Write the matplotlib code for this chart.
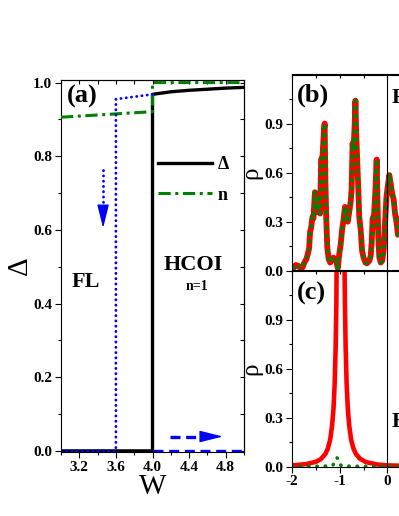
import numpy as np
import matplotlib
matplotlib.use('Agg')
import matplotlib.pyplot as plt
from matplotlib.ticker import MultipleLocator, FixedLocator

plt.rcParams['font.family'] = ['Liberation Serif', 'DejaVu Serif']
plt.rcParams['font.weight'] = 'bold'
plt.rcParams['axes.linewidth'] = 0.8

# -------------------------------------------------------------------
# datos panel (a): parametro de orden Delta y llenado n vs W
# -------------------------------------------------------------------
W_delta = [3.0, 4.0, 4.0, 4.2, 4.4, 4.6, 4.8, 5.0]
delta = [0.0, 0.0, 0.968, 0.975, 0.979, 0.982, 0.985, 0.987]

W_n = [3.0, 4.0, 4.0, 5.0]
n_fill = [0.906, 0.921, 1.0, 1.0]

# rama de histeresis (azul)
W_back = [3.0, 3.6, 3.6, 4.0]
delta_back = [0.0, 0.0, 0.955, 0.968]
W_fwd = [4.0, 5.0]
delta_fwd = [0.0, 0.0]

# flechas (inicio, base de la punta, punta)
arrow_down = ((3.46, 0.763), (3.46, 0.665), (3.46, 0.605))
arrow_right = ((4.19, 0.039), (4.54, 0.039), (4.77, 0.039))

# -------------------------------------------------------------------
# datos panel (b): densidad de estados (FL)
# -------------------------------------------------------------------
w_b = [-2.00, -1.96, -1.92, -1.87, -1.82, -1.78, -1.74, -1.70, -1.67, -1.64,
       -1.62, -1.60, -1.57, -1.55, -1.52, -1.50, -1.47, -1.44, -1.41, -1.39,
       -1.36, -1.33, -1.315, -1.30, -1.28, -1.26, -1.23, -1.20, -1.17, -1.13,
       -1.10, -1.07, -1.04, -1.01, -0.98, -0.95, -0.92, -0.89, -0.86, -0.83,
       -0.80, -0.77, -0.75, -0.73, -0.71, -0.685, -0.67, -0.655, -0.63, -0.61,
       -0.59, -0.56, -0.53, -0.50, -0.46, -0.43, -0.38, -0.35, -0.33, -0.31,
       -0.28, -0.25, -0.225, -0.21, -0.19, -0.17, -0.14, -0.11, -0.08, -0.05,
       -0.02, 0.01, 0.04, 0.07, 0.10, 0.13, 0.16, 0.19, 0.22, 0.25, 0.30]
rho_b = [0.01, 0.02, 0.035, 0.03, 0.015, 0.02, 0.05, 0.07, 0.10, 0.14,
         0.24, 0.26, 0.33, 0.32, 0.48, 0.40, 0.36, 0.44, 0.35, 0.68,
         0.70, 0.86, 0.90, 0.55, 0.30, 0.14, 0.07, 0.05, 0.06, 0.08,
         0.07, 0.06, 0.015, 0.10, 0.16, 0.25, 0.31, 0.39, 0.33, 0.30,
         0.36, 0.42, 0.50, 0.78, 0.74, 0.90, 1.04, 0.85, 0.65, 0.50,
         0.33, 0.25, 0.12, 0.08, 0.05, 0.045, 0.06, 0.09, 0.17, 0.32,
         0.34, 0.50, 0.68, 0.45, 0.20, 0.085, 0.05, 0.06, 0.12, 0.29,
         0.45, 0.52, 0.585, 0.53, 0.47, 0.44, 0.35, 0.30, 0.22, 0.30, 0.35]

# -------------------------------------------------------------------
# datos panel (c): densidad de estados (HCOI)
# -------------------------------------------------------------------
w_c = [-2.0, -1.7, -1.5, -1.4, -1.3, -1.25, -1.2, -1.16, -1.13, -1.105,
       -1.085, -1.07, -1.06, -1.05, -0.91, -0.90, -0.89, -0.875, -0.855, -0.83,
       -0.80, -0.76, -0.71, -0.66, -0.58, -0.45, -0.2, 0.0, 0.5, 1.0]
rho_c = [0.008, 0.016, 0.03, 0.045, 0.078, 0.11, 0.165, 0.25, 0.355, 0.51,
         0.73, 0.99, 1.4, 1.8, 1.63, 1.25, 0.99, 0.73, 0.51, 0.355,
         0.25, 0.165, 0.11, 0.078, 0.05, 0.028, 0.013, 0.008, 0.004, 0.003]

w_c2 = [-2.0, -1.5, -1.2, -1.14, -1.1, -1.06, -1.02, -0.98, -0.94, -0.5, 0.0, 1.0]
rho_c2 = [0.002, 0.003, 0.004, 0.01, 0.035, 0.055, 0.045, 0.01, 0.004, 0.002, 0.002, 0.002]

w_ticks = [-2, -1, 0]

BLUE = '#0000ff'
GREEN = '#008000'
RED = '#ff0000'


def mirror_ticks(ax, top=True, right=True):
    # ejes espejo con ticks hacia adentro (estilo Origin)
    if top:
        sx = ax.secondary_xaxis('top')
        sx.xaxis.set_major_locator(FixedLocator(ax.get_xticks()))
        sx.xaxis.set_minor_locator(FixedLocator(ax.xaxis.get_minorticklocs()))
        sx.tick_params(which='both', direction='in', length=3, width=0.8,
                       labeltop=False)
    if right:
        sy = ax.secondary_yaxis('right')
        sy.yaxis.set_major_locator(FixedLocator(ax.get_yticks()))
        sy.yaxis.set_minor_locator(FixedLocator(ax.yaxis.get_minorticklocs()))
        sy.tick_params(which='both', direction='in', length=3, width=0.8,
                       labelright=False)


fig = plt.figure(figsize=(3.99, 5.16), dpi=100)

# -------------------------------------------------------------------
# panel (a)
# -------------------------------------------------------------------
ax = fig.add_axes([61/399, 64/516, 183/399, 372/516])
ax.plot(W_delta, delta, color='black', lw=2.4, label='Δ', zorder=3)
ax.plot(W_n, n_fill, color=GREEN, lw=2.2, dashes=(4, 1.5, 1, 1.5), label='n', zorder=4)
ax.plot(W_back, delta_back, color=BLUE, lw=2.0, linestyle=(0, (0.1, 1.8)),
        dash_capstyle='round', zorder=5)
ax.plot(W_fwd, delta_fwd, color=BLUE, lw=2.4, dashes=(3, 1.7), zorder=5)

# flechas
ax.plot([arrow_down[0][0], arrow_down[1][0]], [arrow_down[0][1], arrow_down[1][1]],
        color=BLUE, lw=2.0, linestyle=(0, (0.1, 1.8)), dash_capstyle='round')
ax.annotate('', xy=arrow_down[2], xytext=arrow_down[1],
            arrowprops=dict(arrowstyle='-|>,head_length=0.72,head_width=0.18',
                            mutation_scale=20, color=BLUE, lw=1,
                            shrinkA=0, shrinkB=0))
ax.plot([arrow_right[0][0], arrow_right[1][0]], [arrow_right[0][1], arrow_right[1][1]],
        color=BLUE, lw=2.4, dashes=(3, 1.7))
ax.annotate('', xy=arrow_right[2], xytext=arrow_right[1],
            arrowprops=dict(arrowstyle='-|>,head_length=0.72,head_width=0.18',
                            mutation_scale=20, color=BLUE, lw=1,
                            shrinkA=0, shrinkB=0))

ax.set_xlim(3.0, 5.0)
ax.set_ylim(-0.003, 1.007)
ax.xaxis.set_major_locator(FixedLocator([3.2, 3.6, 4.0, 4.4, 4.8]))
ax.xaxis.set_minor_locator(FixedLocator([3.0, 3.4, 3.8, 4.2, 4.6, 5.0]))
ax.yaxis.set_major_locator(MultipleLocator(0.2))
ax.yaxis.set_minor_locator(MultipleLocator(0.1))
ax.tick_params(which='major', direction='out', length=4.5, width=0.8, labelsize=11, pad=2)
ax.tick_params(which='minor', direction='out', length=2.5, width=0.8)
ax.set_xlabel('W', fontsize=21, labelpad=0)
ax.set_ylabel('Δ', fontsize=21, labelpad=0)
mirror_ticks(ax)

ax.text(3.227, 0.963, '(a)', fontsize=19, ha='center', va='center')
ax.text(3.12, 0.446, 'FL', fontsize=16, ha='left', va='baseline')
ax.text(4.12, 0.49, 'HCOI', fontsize=16, ha='left', va='baseline')
ax.text(4.49, 0.437, 'n=1', fontsize=10, ha='center', va='baseline')

ax.legend(loc='upper left', bbox_to_anchor=(0.53, 0.795), frameon=False,
          fontsize=13, handlelength=3.0, handletextpad=0.3, labelspacing=0.75,
          borderpad=0, borderaxespad=0)

# -------------------------------------------------------------------
# paneles (b) y (c)
# -------------------------------------------------------------------
axb = fig.add_axes([292/399, (516-270.7)/516, 190.8/399, 196.2/516])
axc = fig.add_axes([292/399, (516-466.7)/516, 190.8/399, 196.2/516])

axb.plot(w_b, rho_b, color=RED, lw=4.2, solid_joinstyle='round')
axb.plot(w_b, rho_b, color=GREEN, lw=2.8, linestyle=(0, (1, 1)))
axc.plot(w_c, rho_c, color=RED, lw=3.3)
axc.plot(w_c2, rho_c2, color=GREEN, lw=2.6, linestyle=(0, (0.1, 2.2)),
         dash_capstyle='round')

for a in (axb, axc):
    a.set_xlim(-2, 2)
    a.set_ylim(0, 1.2)
    a.axvline(0, color='black', lw=0.8)
    a.yaxis.set_major_locator(FixedLocator([0.0, 0.3, 0.6, 0.9]))
    a.yaxis.set_minor_locator(FixedLocator([0.15, 0.45, 0.75, 1.05]))
    a.xaxis.set_major_locator(FixedLocator(w_ticks))
    a.xaxis.set_minor_locator(FixedLocator([-1.5, -0.5]))
    a.tick_params(which='major', direction='out', length=4, width=0.8, labelsize=11, pad=2)
    a.tick_params(which='minor', direction='out', length=2.5, width=0.8)
    a.set_ylabel('ρ', fontsize=18, labelpad=2)
    a.yaxis.set_major_formatter(plt.FormatStrFormatter('%.1f'))
    mirror_ticks(a, right=False)

axb.tick_params(axis='x', which='both', bottom=False, labelbottom=False)
axc.xaxis.set_major_formatter(plt.FormatStrFormatter('%d'))

axb.text(-1.56, 1.073, '(b)', fontsize=19, ha='center', va='center')
axc.text(-1.60, 1.058, '(c)', fontsize=19, ha='center', va='center')
axb.text(0.08, 1.024, 'FL', fontsize=16, ha='left', va='baseline')
axc.text(0.08, 0.244, 'HCOI', fontsize=16, ha='left', va='baseline')

fig.savefig('out.png', dpi=100)
